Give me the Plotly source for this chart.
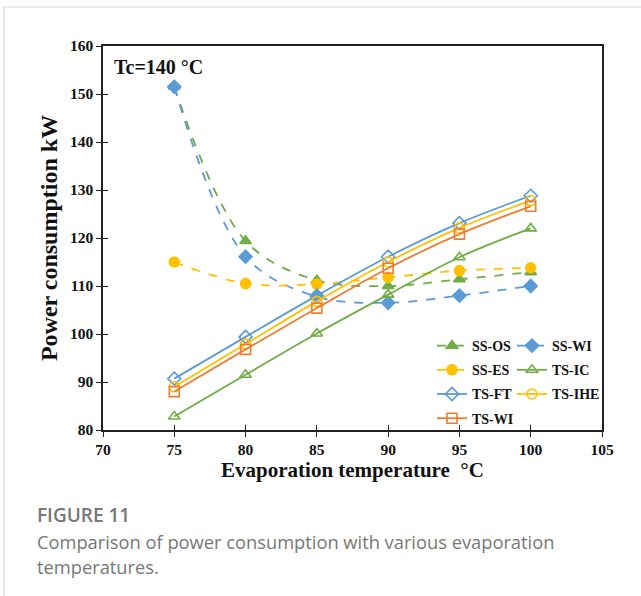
import plotly.graph_objects as go

# Evaporation temperature (°C)
evap_temp = [75, 80, 85, 90, 95, 100]

# Power consumption (kW) for each cycle configuration
ss_os = [151.5, 119.4, 111.2, 110.0, 111.4, 112.9]
ss_wi = [151.5, 116.1, 107.8, 106.5, 108.0, 110.0]
ss_es = [115.0, 110.5, 110.4, 111.8, 113.2, 113.8]
ts_ic = [82.8, 91.5, 100.1, 108.2, 116.0, 122.0]
ts_ft = [90.7, 99.4, 108.0, 116.1, 123.1, 128.8]
ts_ihe = [89.0, 97.9, 106.8, 115.0, 122.1, 127.8]
ts_wi = [88.0, 96.8, 105.4, 113.7, 120.8, 126.6]

x_ticks = [70, 75, 80, 85, 90, 95, 100, 105]
y_ticks = [80, 90, 100, 110, 120, 130, 140, 150, 160]

GREEN = "#70AD47"
BLUE = "#5B9BD5"
YELLOW = "#FFC000"
ORANGE = "#ED7D31"

# name, values, colour, marker, dash, legend column
series = [
    ("SS-OS", ss_os, GREEN, "triangle-up", "dash", "legend"),
    ("SS-WI", ss_wi, BLUE, "diamond", "dash", "legend2"),
    ("SS-ES", ss_es, YELLOW, "circle", "dash", "legend"),
    ("TS-IC", ts_ic, GREEN, "triangle-up-open", "solid", "legend2"),
    ("TS-FT", ts_ft, BLUE, "diamond-open", "solid", "legend"),
    ("TS-IHE", ts_ihe, YELLOW, "circle-open", "solid", "legend2"),
    ("TS-WI", ts_wi, ORANGE, "square-open", "solid", "legend"),
]

fig = go.Figure()
for name, vals, color, symbol, dash, leg in series:
    fig.add_trace(go.Scatter(
        x=evap_temp, y=vals, name=name, mode="lines+markers",
        legend=leg, legendgroup=name,
        line=dict(color=color, width=1.8, dash=dash, shape="spline", smoothing=1.0),
        marker=dict(symbol=symbol, size=10, color=color,
                    line=dict(color=color, width=1.6)),
    ))

W, H = 641, 596
ML, MR, MT, MB = 103, 39, 46, 166
PW, PH = W - ML - MR, H - MT - MB


def px(x):
    return (x - ML) / PW


def py(y):
    return (H - MB - y) / PH


SERIF = "Liberation Serif"
INK = "#111111"
tick_font = dict(family=SERIF, size=15.5, color=INK, weight="bold")

axis_common = dict(
    showgrid=False, zeroline=False, showline=True, linecolor="#222",
    linewidth=1.5, mirror=True, ticks="outside", ticklen=5,
    tickwidth=1.3, tickcolor="#222", tickfont=tick_font,
)
inner_ticks = dict(
    showgrid=False, zeroline=False, showline=False, ticks="inside",
    ticklen=5, tickwidth=1.3, tickcolor="#222", showticklabels=False,
)

legend_common = dict(
    orientation="v", xanchor="left", yanchor="top",
    font=dict(family=SERIF, size=14, color=INK, weight="bold"),
    bgcolor="rgba(255,255,255,0)", itemwidth=30, tracegroupgap=3,
)

fig.update_layout(
    width=W, height=H,
    margin=dict(l=ML, r=MR, t=MT, b=MB),
    paper_bgcolor="white", plot_bgcolor="white",
    xaxis=dict(range=[70, 105], tickvals=x_ticks, **axis_common,
               title=dict(text="Evaporation temperature  °C",
                          font=dict(family=SERIF, size=21, color=INK, weight="bold"),
                          standoff=2)),
    yaxis=dict(range=[80, 160], tickvals=y_ticks, **axis_common,
               title=dict(text="Power consumption kW",
                          font=dict(family=SERIF, size=24, color=INK, weight="bold"),
                          standoff=6)),
    # inner half of the crossing tick marks
    xaxis2=dict(range=[70, 105], tickvals=x_ticks, overlaying="x", anchor="y2",
                **inner_ticks),
    yaxis2=dict(range=[80, 160], tickvals=y_ticks, overlaying="y", anchor="x2",
                **inner_ticks),
    showlegend=True,
    legend=dict(x=px(432), y=py(330), **legend_common),
    legend2=dict(x=px(512), y=py(330), **legend_common),
)

fig.add_trace(go.Scatter(x=[None], y=[None], xaxis="x2", yaxis="y2",
                         showlegend=False, hoverinfo="skip"))

fig.add_annotation(
    text="Tc=140 °C", xref="paper", yref="paper",
    x=px(112), y=py(67), xanchor="left", yanchor="middle", showarrow=False,
    font=dict(family=SERIF, size=20, color=INK, weight="bold"),
)

# card frame and caption
fig.add_shape(type="rect", xref="paper", yref="paper",
              x0=px(4), x1=px(660), y0=py(620), y1=py(7),
              line=dict(color="#d6d6d6", width=1.2), fillcolor="rgba(0,0,0,0)",
              layer="below")

CAPTION = "#777777"
fig.add_annotation(text="FIGURE 11", xref="paper", yref="paper",
                   x=px(35), y=py(515), xanchor="left", yanchor="middle",
                   showarrow=False,
                   font=dict(family="Open Sans", size=19, color=CAPTION, weight=600))
fig.add_annotation(text="Comparison of power consumption with various evaporation",
                   xref="paper", yref="paper",
                   x=px(35), y=py(541), xanchor="left", yanchor="middle",
                   showarrow=False,
                   font=dict(family="Open Sans", size=18.3, color=CAPTION))
fig.add_annotation(text="temperatures.", xref="paper", yref="paper",
                   x=px(35), y=py(566), xanchor="left", yanchor="middle",
                   showarrow=False,
                   font=dict(family="Open Sans", size=18.3, color=CAPTION))

fig.write_html("out.html")
